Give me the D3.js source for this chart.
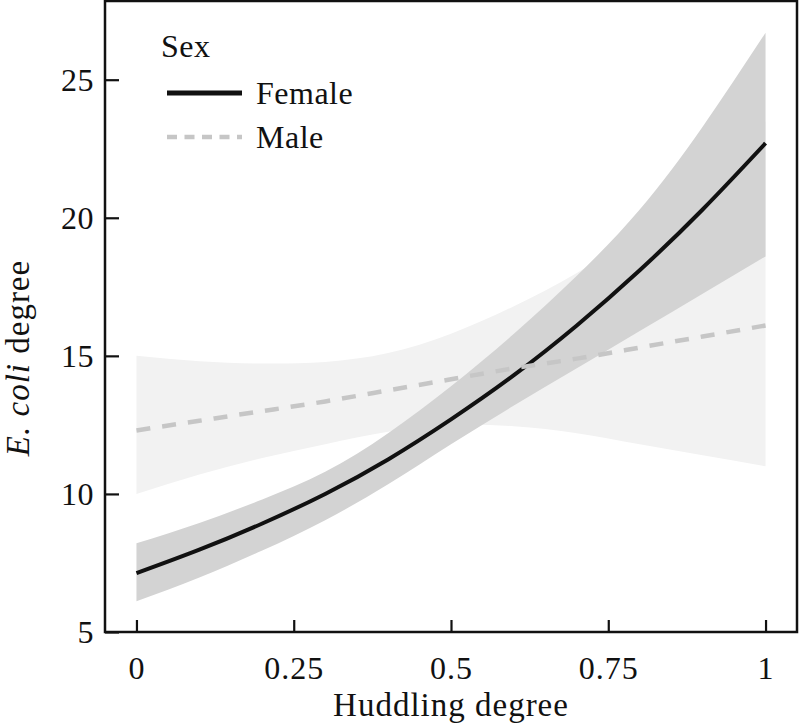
<!DOCTYPE html>
<html>
<head>
<meta charset="utf-8">
<script src="https://cdn.jsdelivr.net/npm/d3@7"></script>
<style>
  body { margin: 0; background: #fff; }
  svg text { font-family: 'Liberation Serif', 'Times New Roman', serif; fill: #111; }
</style>
</head>
<body>
<div id="chart"></div>
<script>
// values
const huddling = [0, 0.1, 0.2, 0.3, 0.4, 0.5, 0.6, 0.7, 0.8, 0.9, 1]
const femaleFit = [7.13, 7.98, 8.93, 10.0, 11.25, 12.7, 14.3, 16.1, 18.1, 20.3, 22.7]
const femaleLow = [6.11, 6.97, 7.95, 9.05, 10.35, 11.8, 13.2, 14.55, 15.9, 17.25, 18.6]
const femaleHigh = [8.21, 8.95, 9.8, 10.8, 12.2, 13.9, 15.8, 17.9, 20.3, 23.3, 26.7]
const maleFit = [12.3, 12.65, 13.0, 13.35, 13.75, 14.15, 14.55, 14.9, 15.3, 15.7, 16.1]
const maleLow = [10.0, 10.7, 11.3, 11.8, 12.25, 12.5, 12.45, 12.2, 11.8, 11.4, 11.0]
const maleHigh = [15.0, 14.8, 14.72, 14.78, 15.1, 15.8, 16.8, 18.0, 19.5, 21.3, 23.5]
const xTicks = [0, 0.25, 0.5, 0.75, 1]
const xTickLabels = ['0', '0.25', '0.5', '0.75', '1']
const yTicks = [5, 10, 15, 20, 25]
const legendKeys = ['Female', 'Male']

const width = 800, height = 725
const margin = {top: 1, right: 3, bottom: 93, left: 105}

const svg = d3.select('#chart').append('svg')
  .attr('width', width)
  .attr('height', height)

const xScale = d3.scaleLinear().domain([-0.05, 1.05]).range([margin.left, width - margin.right])
const yScale = d3.scaleLinear().domain([5, 27.85]).range([height - margin.bottom, margin.top])

function rows(lo, hi, fit) {
  return huddling.map((x, i) => ({x: x, lo: lo[i], hi: hi[i], y: fit[i]}))
}

const area = d3.area()
  .x((d) => xScale(d.x))
  .y0((d) => yScale(d.lo))
  .y1((d) => yScale(d.hi))
  .curve(d3.curveNatural)

const line = d3.line()
  .x((d) => xScale(d.x))
  .y((d) => yScale(d.y))
  .curve(d3.curveNatural)

const male = rows(maleLow, maleHigh, maleFit)
const female = rows(femaleLow, femaleHigh, femaleFit)

svg.append('path').datum(male).attr('d', area).attr('fill', '#f2f2f2')
svg.append('path').datum(female).attr('d', area).attr('fill', '#d3d3d3')

svg.append('path').datum(female).attr('d', line)
  .attr('fill', 'none').attr('stroke', '#111').attr('stroke-width', 4)
svg.append('path').datum(male).attr('d', line)
  .attr('fill', 'none').attr('stroke', '#c6c6c6').attr('stroke-width', 4.5)
  .attr('stroke-dasharray', '14,12')

// axes, ticks pointing inwards
const xAxis = svg.append('g')
  .attr('transform', 'translate(0,' + (height - margin.bottom) + ')')
  .call(d3.axisBottom(xScale).tickValues(xTicks).tickSizeInner(-12).tickSizeOuter(0)
    .tickFormat((d, i) => xTickLabels[i]))
xAxis.select('.domain').remove()
xAxis.selectAll('line').attr('stroke', '#111').attr('stroke-width', 2.2)
xAxis.selectAll('text').attr('y', 24).attr('dy', '0.71em')
  .style('font-size', '32px').style('letter-spacing', '1px')

const yAxis = svg.append('g')
  .attr('transform', 'translate(' + margin.left + ',0)')
  .call(d3.axisLeft(yScale).tickValues(yTicks).tickSizeInner(-14).tickSizeOuter(0))
yAxis.select('.domain').remove()
yAxis.selectAll('line').attr('stroke', '#111').attr('stroke-width', 2.2)
yAxis.selectAll('text').attr('x', -11).attr('dy', '0.34em')
  .style('font-size', '32px').style('letter-spacing', '0.5px')

// frame
svg.append('rect')
  .attr('x', margin.left).attr('y', margin.top)
  .attr('width', width - margin.left - margin.right)
  .attr('height', height - margin.top - margin.bottom)
  .attr('fill', 'none').attr('stroke', '#111').attr('stroke-width', 2.5)

svg.append('text')
  .attr('x', xScale(0.5)).attr('y', 716)
  .attr('text-anchor', 'middle')
  .style('font-size', '33px').style('letter-spacing', '1px')
  .text('Huddling degree')

const yLabel = svg.append('text')
  .attr('transform', 'translate(29,358) rotate(-90)')
  .attr('text-anchor', 'middle')
  .style('font-size', '33px').style('letter-spacing', '1px')
yLabel.append('tspan').style('font-style', 'italic').text('E. coli')
yLabel.append('tspan').text(' degree')

// legend
const legend = svg.append('g')
legend.append('text').attr('x', 161).attr('y', 57)
  .style('font-size', '32px').style('letter-spacing', '0.5px').text('Sex')

legendKeys.forEach((key, i) => {
  const y = 93 + i * 44
  legend.append('line')
    .attr('x1', 167).attr('x2', 242).attr('y1', y).attr('y2', y)
    .attr('stroke', i === 0 ? '#111' : '#c6c6c6')
    .attr('stroke-width', i === 0 ? 5 : 4.5)
    .attr('stroke-dasharray', i === 0 ? null : '10,7.5')
  legend.append('text').attr('x', 256).attr('y', y + 11)
    .style('font-size', '32px').style('letter-spacing', '0.5px').text(key)
})
</script>
</body>
</html>
